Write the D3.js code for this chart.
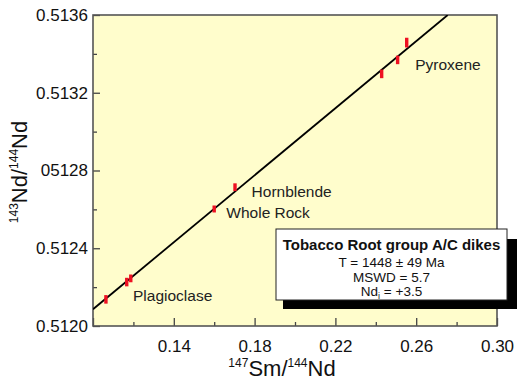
<!DOCTYPE html>
<html><head><meta charset="utf-8">
<script src="https://cdn.jsdelivr.net/npm/d3@7"></script>
<style>body{margin:0;background:#fff}svg{display:block}text{font-family:"Liberation Sans",Arial,Helvetica,sans-serif}</style>
</head><body>
<script>
// data
const mineral = ["Plagioclase","Plagioclase","Plagioclase","Whole Rock","Hornblende","Pyroxene","Pyroxene","Pyroxene"];
const smNd = [0.1064,0.1167,0.1187,0.1600,0.1703,0.2429,0.2508,0.2553];
const ndNd = [0.512137,0.512226,0.512245,0.512602,0.512714,0.513297,0.513369,0.513458];
const ndErr = [0.000022,0.000022,0.000020,0.000018,0.000020,0.000022,0.000022,0.000025];
const isochronX = [0.10,0.2756];
const isochronY = [0.512086,0.5136];
const xTicks = [0.10,0.14,0.18,0.22,0.26,0.30];
const xTickLabels = ["","0.14","0.18","0.22","0.26","0.30"];
const xMinor = [0.12,0.16,0.20,0.24,0.28];
const yTicks = [0.5120,0.5124,0.5128,0.5132,0.5136];
const yTickLabels = ["0.5120","0.5124","05128","0.5132","0.5136"];
const yMinor = [0.5122,0.5126,0.5130,0.5134];
const labelNames = ["Pyroxene","Hornblende","Whole Rock","Plagioclase"];
const labelX = [0.2595,0.1785,0.1660,0.1198];
const labelY = [0.513315,0.512665,0.512555,0.512127];
const boxLines = ["Tobacco Root group A/C dikes","T = 1448 ± 49 Ma","MSWD = 5.7","Nd"];

const W=520,H=381;
const m={l:93,r:23,t:15,b:55};
const svg=d3.select("body").append("svg").attr("width",W).attr("height",H);
const x=d3.scaleLinear().domain([0.10,0.30]).range([m.l,W-m.r]);
const y=d3.scaleLinear().domain([0.5120,0.5136]).range([H-m.b,m.t]);

svg.append("rect").attr("x",x(0.10)).attr("y",y(0.5136)).attr("width",x(0.30)-x(0.10)).attr("height",y(0.5120)-y(0.5136))
  .attr("fill","#FFFDCC");

svg.append("clipPath").attr("id","c").append("rect").attr("x",x(0.10)).attr("y",y(0.5136)).attr("width",x(0.30)-x(0.10)).attr("height",y(0.5120)-y(0.5136));

// axes with inward ticks
svg.append("g").attr("transform",`translate(0,${y(0.5120)})`)
  .call(d3.axisBottom(x).tickValues(xTicks).tickSizeInner(-8).tickSizeOuter(0).tickPadding(14).tickFormat((d,i)=>xTickLabels[i]));
svg.append("g").attr("transform",`translate(0,${y(0.5120)})`)
  .call(d3.axisBottom(x).tickValues(xMinor).tickSizeInner(-4).tickSizeOuter(0).tickFormat(""));
svg.append("g").attr("transform",`translate(${x(0.10)},0)`)
  .call(d3.axisLeft(y).tickValues(yTicks).tickSizeInner(-7).tickSizeOuter(0).tickPadding(5).tickFormat((d,i)=>yTickLabels[i]));
svg.append("g").attr("transform",`translate(${x(0.10)},0)`)
  .call(d3.axisLeft(y).tickValues(yMinor).tickSizeInner(-4).tickSizeOuter(0).tickFormat(""));
svg.selectAll(".domain").remove();
svg.selectAll(".tick line").attr("stroke","#444").attr("stroke-width",1.3);
svg.selectAll(".tick text").attr("font-size",17).attr("fill","#111").style("font-family",'"Liberation Sans",Arial,sans-serif');

// frame
svg.append("rect").attr("x",x(0.10)).attr("y",y(0.5136)).attr("width",x(0.30)-x(0.10)).attr("height",y(0.5120)-y(0.5136))
  .attr("fill","none").attr("stroke","#555").attr("stroke-width",1.6);

// isochron
svg.append("line").attr("clip-path","url(#c)")
  .attr("x1",x(isochronX[0])).attr("y1",y(isochronY[0])).attr("x2",x(isochronX[1])).attr("y2",y(isochronY[1]))
  .attr("stroke","#000").attr("stroke-width",1.8);

// error bars
svg.append("g").selectAll("rect").data(smNd).join("rect")
  .attr("x",d=>x(d)-1.7).attr("width",3.4)
  .attr("y",(d,i)=>y(ndNd[i]+ndErr[i])).attr("height",(d,i)=>y(ndNd[i]-ndErr[i])-y(ndNd[i]+ndErr[i]))
  .attr("fill","#ee1122");

// mineral labels
svg.append("g").selectAll("text").data(labelNames).join("text")
  .attr("x",(d,i)=>x(labelX[i])).attr("y",(d,i)=>y(labelY[i]))
  .attr("font-size",15.5).attr("fill","#222").text(d=>d);

// axis titles
const xt=svg.append("text").attr("x",282).attr("y",376).attr("text-anchor","middle").attr("font-size",22).attr("fill","#111");
xt.append("tspan").attr("font-size",12).attr("dy",-9).text("147");
xt.append("tspan").attr("dy",9).text("Sm/");
xt.append("tspan").attr("font-size",12).attr("dy",-9).text("144");
xt.append("tspan").attr("dy",9).text("Nd");

const yt=svg.append("text").attr("transform","translate(27,172) rotate(-90)").attr("text-anchor","middle").attr("font-size",22).attr("fill","#111");
yt.append("tspan").attr("font-size",12).attr("dy",-9).text("143");
yt.append("tspan").attr("dy",9).text("Nd/");
yt.append("tspan").attr("font-size",12).attr("dy",-9).text("144");
yt.append("tspan").attr("dy",9).text("Nd");

// info box with shadow
const bx=276,by=229,bw=231,bh=71;
svg.append("rect").attr("x",bx+7).attr("y",by+10).attr("width",bw+3).attr("height",bh-1).attr("fill","#000");
svg.append("rect").attr("x",bx).attr("y",by).attr("width",bw).attr("height",bh).attr("fill","#fff").attr("stroke","#222").attr("stroke-width",1);
const cx=bx+bw/2;
svg.append("text").attr("x",cx).attr("y",250).attr("text-anchor","middle").attr("font-size",15).attr("font-weight","bold").attr("fill","#111").text(boxLines[0]);
svg.append("text").attr("x",cx).attr("y",266.5).attr("text-anchor","middle").attr("font-size",13.5).attr("fill","#111").text(boxLines[1]);
svg.append("text").attr("x",cx).attr("y",281.5).attr("text-anchor","middle").attr("font-size",13.5).attr("fill","#111").text(boxLines[2]);
const nd=svg.append("text").attr("x",cx).attr("y",296).attr("text-anchor","middle").attr("font-size",13.5).attr("fill","#111");
nd.append("tspan").text(boxLines[3]);
nd.append("tspan").attr("font-size",9).attr("dy",3).text("i");
nd.append("tspan").attr("dy",-3).text(" = +3.5");
</script>
</body></html>
